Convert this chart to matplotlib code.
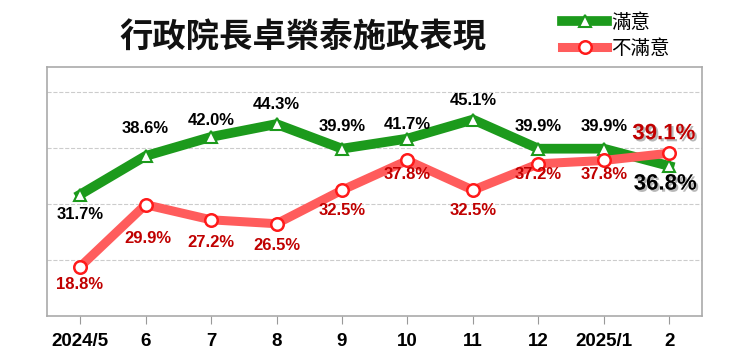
import matplotlib
matplotlib.use('Agg')
import matplotlib.pyplot as plt
import matplotlib.patheffects as pe

plt.rcParams['font.family'] = ['Noto Sans CJK TC', 'DejaVu Sans']

months = ['2024/5', '6', '7', '8', '9', '10', '11', '12', '2025/1', '2']
satisfied = [31.7, 38.6, 42.0, 44.3, 39.9, 41.7, 45.1, 39.9, 39.9, 36.8]
dissatisfied = [18.8, 29.9, 27.2, 26.5, 32.5, 37.8, 32.5, 37.2, 37.8, 39.1]

# label offsets in points (dx, dy)
sat_off = [(0, -14), (0, 20), (0, 12), (0, 14), (0, 16), (0, 10), (0, 14), (0, 16), (0, 16), (-3, -13)]
dis_off = [(0, -13), (2, -24), (0, -16), (0, -16), (0, -15), (0, -10), (0, -15), (0, -8), (0, -10), (-4, 14)]

GREEN = '#1c9a1c'
RED = '#ff5c5c'
DKRED = '#c00000'

fig = plt.figure(figsize=(7.51, 3.56), dpi=100)
ax = fig.add_axes([0.063, 0.112, 0.872, 0.700])

x = list(range(len(months)))
l1, = ax.plot(x, satisfied, color=GREEN, lw=7, marker='^', ms=8, mfc='white',
              mec=GREEN, mew=1.5, solid_joinstyle='miter', zorder=3, label='滿意')
l2, = ax.plot(x, dissatisfied, color=RED, lw=6.5, marker='o', ms=9, mfc='white',
              mec='#ff1a1a', mew=1.8, zorder=3, label='不滿意')

num_font = ['Liberation Sans', 'DejaVu Sans']
n = len(months)
for i, v in enumerate(satisfied):
    last = i == n - 1
    t = ax.annotate(f'{v:.1f}%', (i, v), xytext=sat_off[i], textcoords='offset points',
                    ha='center', va='center', fontsize=16 if last else 12,
                    fontweight='bold', color='black', family=num_font, zorder=5)
    if last:
        t.set_path_effects([pe.withSimplePatchShadow(offset=(1.5, -1.5), shadow_rgbFace='#888888', alpha=0.6)])
for i, v in enumerate(dissatisfied):
    last = i == n - 1
    t = ax.annotate(f'{v:.1f}%', (i, v), xytext=dis_off[i], textcoords='offset points',
                    ha='center', va='center', fontsize=16 if last else 12,
                    fontweight='bold', color=DKRED, family=num_font, zorder=5)
    if last:
        t.set_path_effects([pe.withSimplePatchShadow(offset=(1.5, -1.5), shadow_rgbFace='#888888', alpha=0.6)])

ax.set_xlim(-0.5, n - 0.5)
ax.set_ylim(10, 54.5)
ax.set_yticks([20, 30, 40, 50])
ax.yaxis.grid(True, color='#cccccc', ls='--', lw=0.8)
ax.tick_params(axis='y', left=False, labelleft=False)
ax.set_xticks(x)
ax.set_xticklabels(months, fontsize=13.5, fontweight='bold', family=num_font)
ax.tick_params(axis='x', length=6, color='#999999', pad=6)
for s in ax.spines.values():
    s.set_color('#aaaaaa')
    s.set_linewidth(1.2)

fig.text(0.403, 0.893, '行政院長卓榮泰施政表現', ha='center', va='center',
         fontsize=24, fontweight='bold', color='#111111')

fig.legend(handles=[l1, l2], loc='upper left', bbox_to_anchor=(0.728, 1.01),
           frameon=False, fontsize=14, handlelength=2.3, handletextpad=0.2,
           labelspacing=0.25, borderpad=0.3)

fig.savefig('out.png', dpi=100)
